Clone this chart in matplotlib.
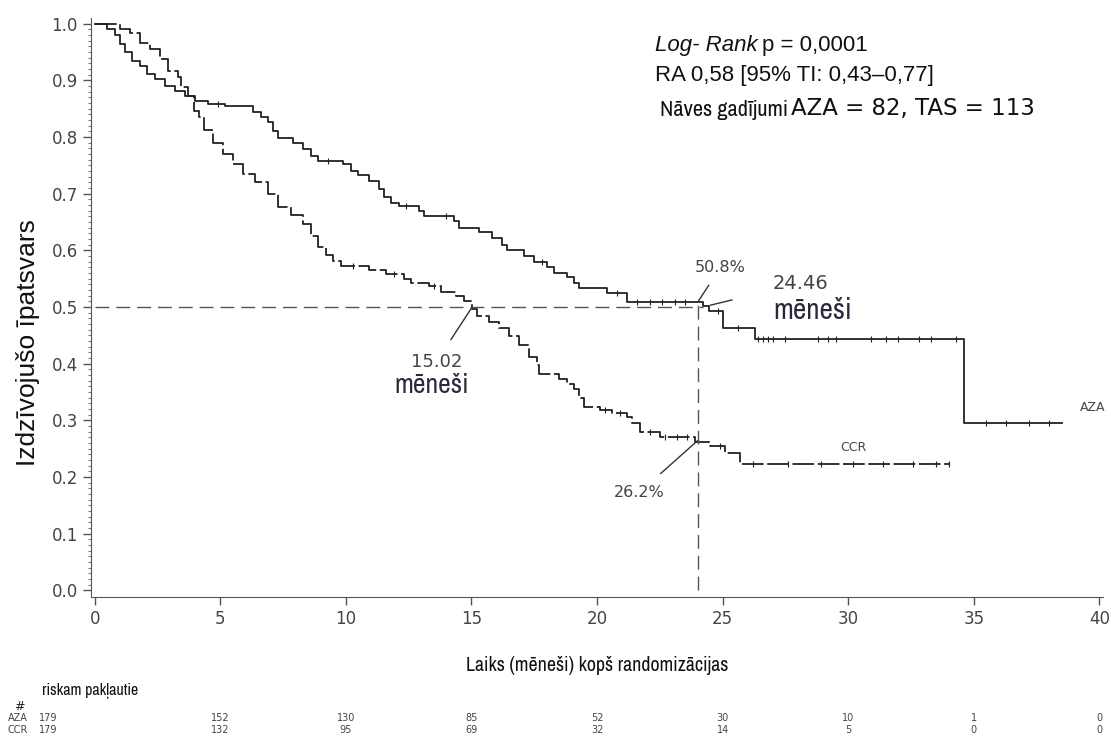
import matplotlib
matplotlib.use("Agg")
import matplotlib.pyplot as plt
import numpy as np
from matplotlib import font_manager as fm

# Kaplan-Meier steps (time in months, survival after step)
aza_time = [0, 0.5, 0.8, 1.0, 1.2, 1.5, 1.8, 2.1, 2.4, 2.8, 3.2, 3.6, 4.0, 4.5, 5.2,
            6.3, 6.6, 6.9, 7.1, 7.3, 7.9, 8.3, 8.6, 8.9, 9.9, 10.2, 10.5, 10.9, 11.3,
            11.5, 11.8, 12.1, 12.9, 13.1, 14.3, 14.5, 15.3, 15.8, 16.2, 16.4, 17.1,
            17.5, 18.0, 18.3, 18.8, 19.1, 19.3, 20.4, 21.2, 24.2, 24.46, 25.0, 26.3,
            34.6, 38.5]
aza_surv = [1.0, 0.99, 0.98, 0.965, 0.95, 0.935, 0.925, 0.912, 0.902, 0.89, 0.882,
            0.873, 0.864, 0.858, 0.854, 0.845, 0.836, 0.826, 0.81, 0.798, 0.79, 0.778,
            0.766, 0.757, 0.752, 0.74, 0.733, 0.722, 0.708, 0.695, 0.684, 0.678, 0.67,
            0.66, 0.652, 0.64, 0.632, 0.622, 0.61, 0.6, 0.59, 0.58, 0.57, 0.56, 0.553,
            0.543, 0.533, 0.524, 0.508, 0.502, 0.493, 0.463, 0.443, 0.295, 0.295]

ccr_time = [0, 1.0, 1.4, 1.8, 2.2, 2.6, 2.9, 3.3, 3.45, 3.7, 3.95, 4.15, 4.35, 4.7,
            5.1, 5.5, 5.9, 6.4, 6.9, 7.3, 7.8, 8.3, 8.6, 8.9, 9.2, 9.5, 9.8, 10.9,
            11.6, 12.3, 12.6, 13.3, 13.8, 14.4, 14.7, 15.02, 15.2, 15.7, 16.1, 16.5,
            16.9, 17.3, 17.6, 17.7, 18.5, 18.8, 19.1, 19.3, 19.5, 20.1, 20.6, 21.2,
            21.4, 21.7, 22.5, 23.9, 24.5, 25.1, 25.7, 34.0]
ccr_surv = [1.0, 0.99, 0.983, 0.966, 0.955, 0.937, 0.916, 0.906, 0.888, 0.873, 0.846,
            0.835, 0.812, 0.79, 0.77, 0.752, 0.735, 0.72, 0.7, 0.677, 0.662, 0.646,
            0.625, 0.605, 0.592, 0.582, 0.573, 0.566, 0.558, 0.55, 0.543, 0.537, 0.527,
            0.519, 0.51, 0.497, 0.484, 0.474, 0.463, 0.448, 0.433, 0.412, 0.397, 0.381,
            0.372, 0.364, 0.355, 0.34, 0.323, 0.318, 0.312, 0.305, 0.295, 0.28, 0.27,
            0.262, 0.254, 0.243, 0.222, 0.222]

# censored observations (tick marks)
aza_cens = [4.9, 9.3, 12.4, 14.0, 17.8, 20.8, 21.6, 22.1, 22.6, 23.1, 23.5, 24.8,
            25.6, 26.4, 26.6, 26.8, 27.0, 27.5, 28.8, 29.2, 29.5, 30.9, 31.5, 32.0,
            32.8, 33.3, 34.3, 35.5, 36.3, 37.2, 38.0]
ccr_cens = [10.3, 11.9, 13.5, 20.3, 20.9, 22.1, 22.7, 23.2, 23.6, 24.9, 26.2, 27.6,
            28.9, 30.2, 31.4, 32.6, 33.5, 34.0]

xticks = [0, 5, 10, 15, 20, 25, 30, 35, 40]
risk_aza = [179, 152, 130, 85, 52, 30, 10, 1, 0]
risk_ccr = [179, 132, 95, 69, 32, 14, 5, 0, 0]

names = sorted({f.name for f in fm.fontManager.ttflist})
narrow_opts = [n for n in names if "Narrow" in n or "Condensed" in n]
narrow = narrow_opts[0] if narrow_opts else None
plain = "Liberation Sans"
sas = "DejaVu Sans"

fig = plt.figure(figsize=(11.11, 7.40), dpi=100)
ax = fig.add_axes([0.0819, 0.1932, 0.911, 0.7824])

ax.step(aza_time, aza_surv, where="post", color="#222222", lw=1.3)
ax.step(ccr_time, ccr_surv, where="post", color="#222222", lw=1.3,
        linestyle=(0, (12, 2)))


def surv_at(t, times, surv):
    i = np.searchsorted(times, t, side="right") - 1
    return np.asarray(surv)[i]


ax.plot(aza_cens, surv_at(aza_cens, aza_time, aza_surv), linestyle="none",
        marker="|", ms=4, mew=0.8, color="#222222")
ax.plot(ccr_cens, surv_at(ccr_cens, ccr_time, ccr_surv), linestyle="none",
        marker="|", ms=4, mew=0.8, color="#222222")

# median / 24 month reference lines
ax.plot([0, 24.2], [0.5, 0.5], color="#555555", lw=1, dashes=(10, 5))
ax.plot([24.0, 24.0], [0, 0.508], color="#555555", lw=1, dashes=(10, 5))

ax.set_xlim(-0.15, 40.15)
ax.set_ylim(-0.012, 1.01)
ax.set_xticks(xticks)
ax.set_yticks(np.arange(0, 1.01, 0.1))
ax.set_yticklabels([f"{v:.1f}" for v in np.arange(0, 1.01, 0.1)])
ax.set_yticks(np.arange(0, 1.0, 0.01), minor=True)
ax.tick_params(axis="both", which="major", labelsize=12, labelcolor="#444444",
               color="#555555", length=6, width=1)
ax.tick_params(axis="y", which="minor", length=2.5, width=0.8, color="#777777")
for lab in ax.get_xticklabels() + ax.get_yticklabels():
    lab.set_family(sas)
for s in ["top", "right"]:
    ax.spines[s].set_visible(False)
for s in ["left", "bottom"]:
    ax.spines[s].set_color("#555555")

lat = narrow if narrow else plain
lat_scale = 1.15 if narrow else 1.0

ax.set_ylabel("Izdzīvojušo īpatsvars", family=plain, fontsize=19, color="#111111")
ax.yaxis.set_label_coords(-0.05, 0.44)
ax.set_xlabel("Laiks (mēneši) kopš randomizācijas", family=lat,
              fontsize=12.5 * lat_scale, color="#111111", labelpad=20)

# annotations
ann = dict(color="#444444", family=sas, ha="center", va="center")
line = dict(arrowstyle="-", color="#333333", lw=1, shrinkB=0)
ax.annotate("50.8%", xy=(24.0, 0.508), xytext=(24.9, 0.569), fontsize=11.5,
            arrowprops=dict(shrinkA=6, **line), **ann)
ax.annotate("24.46", xy=(24.5, 0.503), xytext=(28.1, 0.542), fontsize=14,
            arrowprops=dict(shrinkA=28, **line), **ann)
ax.text(28.6, 0.494, "mēneši", fontsize=21, color="#2a2a3a", family=lat,
        ha="center", va="center")
ax.annotate("15.02", xy=(15.0, 0.498), xytext=(13.6, 0.403), fontsize=13,
            arrowprops=dict(shrinkA=9, **line), **ann)
ax.text(13.4, 0.362, "mēneši", fontsize=20, color="#2a2a3a", family=lat,
        ha="center", va="center")
ax.annotate("26.2%", xy=(24.0, 0.264), xytext=(21.7, 0.173), fontsize=11.5,
            arrowprops=dict(shrinkA=9, **line), **ann)
ax.text(30.2, 0.252, "CCR", fontsize=9, **ann)
ax.text(39.75, 0.322, "AZA", fontsize=9, **ann)

# statistics block
t1 = fig.text(655 / 1111, 1 - 45 / 740, "Log- Rank", family=plain, style="italic",
              fontsize=16, color="#111111", va="center")
ax.annotate("p = 0,0001", xy=(1, 0), xycoords=t1, xytext=(3, 0),
            textcoords="offset points", family=plain, fontsize=16,
            color="#111111", va="bottom", annotation_clip=False)
fig.text(655 / 1111, 1 - 76 / 740, "RA 0,58 [95% TI: 0,43–0,77]", family=plain,
         fontsize=16, color="#111111", va="center")
t3 = fig.text(660 / 1111, 1 - 110 / 740, "Nāves gadījumi", family=lat,
              fontsize=14 * lat_scale, color="#111111", va="center")
ax.annotate("AZA = 82, TAS = 113", xy=(1, 0), xycoords=t3, xytext=(2, 0),
            textcoords="offset points", family=sas, fontsize=16.5,
            color="#111111", va="bottom", annotation_clip=False)

# numbers at risk
fig.text(14 / 1111, 1 - 706 / 740, "#", family=sas, fontsize=9, color="#222222",
         va="center")
fig.text(42 / 1111, 1 - 691 / 740, "riskam pakļautie", family=lat,
         fontsize=10 * lat_scale, color="#111111", va="center")
for row, (name, counts) in enumerate([("AZA", risk_aza), ("CCR", risk_ccr)]):
    ypix = 718 + row * 12
    fig.text(8 / 1111, 1 - ypix / 740, name, family=sas, fontsize=7,
             color="#444444", va="center")
    for i, (t, n) in enumerate(zip(xticks, counts)):
        xd = ax.transData.transform((t, 0))[0]
        if i == 0:
            xd = 48
        fig.text(xd / 1111, 1 - ypix / 740, str(n), family=sas, fontsize=7,
                 color="#444444", va="center", ha="center")

fig.savefig("out.png", dpi=100, facecolor="white")
